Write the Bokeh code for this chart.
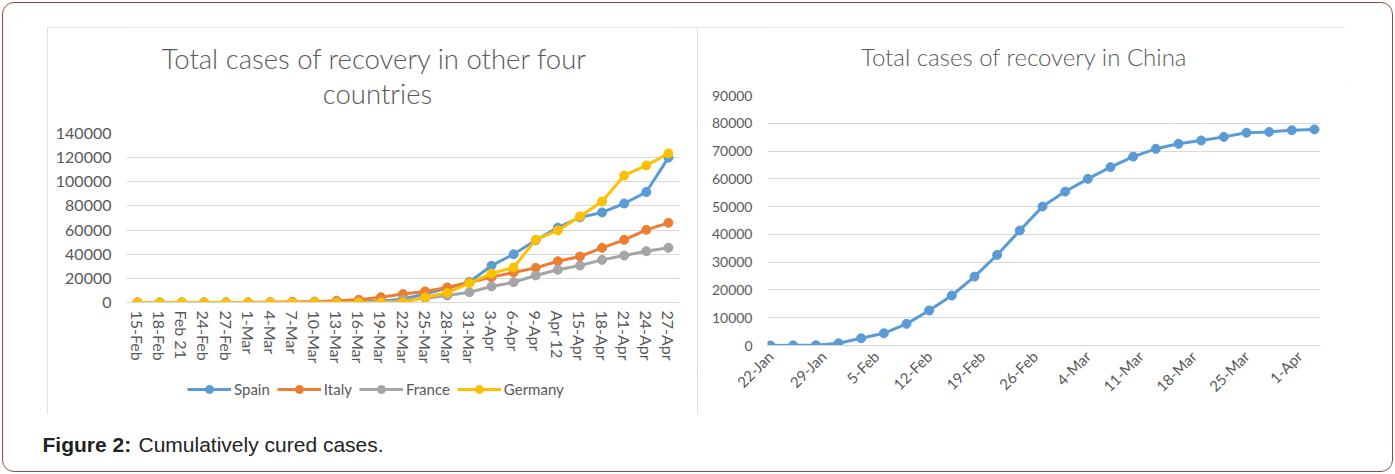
import math
from bokeh.plotting import figure
from bokeh.models import (FactorRange, Range1d, FixedTicker, Legend, LegendItem,
                          Label, Spacer, BasicTickFormatter)
from bokeh.layouts import column, row
from bokeh.embed import file_html
from bokeh.resources import INLINE

# ---------------- data ----------------
dates4 = ["15-Feb", "18-Feb", "Feb 21", "24-Feb", "27-Feb", "1-Mar", "4-Mar", "7-Mar",
          "10-Mar", "13-Mar", "16-Mar", "19-Mar", "22-Mar", "25-Mar", "28-Mar", "31-Mar",
          "3-Apr", "6-Apr", "9-Apr", "Apr 12", "15-Apr", "18-Apr", "21-Apr", "24-Apr", "27-Apr"]
spain = [0, 0, 0, 0, 0, 0, 0, 30, 30, 200, 500, 1100, 3000, 7000, 12000, 17000,
         30500, 40000, 51500, 62000, 70500, 74600, 82000, 91500, 120000]
italy = [0, 0, 0, 0, 50, 80, 280, 600, 700, 1400, 2300, 4400, 7000, 9200, 12500, 16500,
         21000, 24900, 28700, 34200, 38100, 45300, 51900, 60200, 66000]
france = [0, 0, 0, 0, 0, 0, 0, 0, 0, 0, 0, 0, 2000, 3500, 5800, 8500,
          13300, 16800, 22400, 27100, 30600, 35300, 38900, 42500, 45300]
germany = [0, 0, 0, 0, 0, 0, 0, 0, 0, 0, 0, 0, 0, 4400, 8000, 16000,
           24000, 29000, 52000, 59700, 71300, 83700, 105200, 113500, 123500]
countries = ["Spain", "Italy", "France", "Germany"]
y_ticks4 = [0, 20000, 40000, 60000, 80000, 100000, 120000, 140000]

china_day = [0, 3, 6, 9, 12, 15, 18, 21, 24, 27, 30, 33, 36, 39, 42, 45, 48, 51,
             54, 57, 60, 63, 66, 69, 72]
china = [0, 50, 100, 800, 2600, 4400, 7800, 12600, 18000, 24800, 32600, 41400, 50000,
         55400, 60000, 64200, 68000, 70800, 72600, 73800, 75100, 76600, 76900, 77500, 77800]
china_tick_days = [0, 7, 14, 21, 28, 35, 42, 49, 56, 63, 70]
china_tick_labels = ["22-Jan", "29-Jan", "5-Feb", "12-Feb", "19-Feb", "26-Feb",
                     "4-Mar", "11-Mar", "18-Mar", "25-Mar", "1-Apr"]
y_ticks_china = [0, 10000, 20000, 30000, 40000, 50000, 60000, 70000, 80000, 90000]

title_left_1 = "Total cases of recovery  in other four"
title_left_2 = "countries"
title_right = "Total cases of recovery  in China"
caption_bold = "Figure 2:"
caption_rest = "Cumulatively cured cases."

# ---------------- styles ----------------
TXT = "#595959"
GRID = "#d9d9d9"
FONT = "Lato"
TFONT = "Lato Light"
colors = ["#5b9bd5", "#ed7d31", "#a5a5a5", "#ffc000"]
BOX = {"outline": "1px solid #d9d9d9", "outline-offset": "-1px"}
NAN = float("nan")


def style_common(p):
    p.outline_line_color = None
    p.background_fill_color = "white"
    p.border_fill_color = "white"
    p.ygrid.grid_line_color = GRID
    p.ygrid.grid_line_width = 1
    p.xgrid.grid_line_color = None
    p.yaxis.axis_line_color = None
    p.yaxis.major_tick_line_color = None
    p.yaxis.minor_tick_line_color = None
    p.yaxis.major_tick_out = 0
    p.yaxis.major_tick_in = 0
    p.yaxis.major_label_text_color = TXT
    p.yaxis.major_label_text_font = FONT
    p.yaxis.formatter = BasicTickFormatter(use_scientific=False)
    p.xaxis.axis_line_color = GRID
    p.xaxis.axis_line_width = 1
    p.xaxis.major_tick_line_color = None
    p.xaxis.minor_tick_line_color = None
    p.xaxis.major_tick_out = 0
    p.xaxis.major_tick_in = 0
    p.xaxis.major_label_text_color = TXT
    p.xaxis.major_label_text_font = FONT


def plain_fig(w, h, x0=0, x1=None, transparent=False):
    # frame of a strip stacked in a column is aligned with the chart's frame,
    # so the x range is given in canvas pixels of that aligned frame
    t = figure(width=w, height=h, x_range=Range1d(x0, w if x1 is None else x1),
               y_range=Range1d(0, h), output_backend="svg", toolbar_location=None,
               min_border=0, x_axis_location=None, y_axis_location=None)
    t.grid.visible = False
    t.outline_line_color = None
    if transparent:
        t.background_fill_color = None
        t.border_fill_color = None
    return t


# ---------------- left chart ----------------
L_LEFT, L_RIGHT = 79, 18
t1 = plain_fig(650, 96, L_LEFT, 650 - L_RIGHT)
t1.add_layout(Label(x=331, y=65, text=title_left_1, text_align="center",
                    text_baseline="middle", text_font=TFONT, text_font_size="27.5px",
                    text_color=TXT))
t1.add_layout(Label(x=330, y=30, text=title_left_2, text_align="center",
                    text_baseline="middle", text_font=TFONT, text_font_size="27.5px",
                    text_color=TXT))

p1 = figure(width=650, height=247, x_range=FactorRange(*dates4),
            y_range=Range1d(0, 140000), output_backend="svg", toolbar_location=None,
            min_border_left=L_LEFT, min_border_right=L_RIGHT, min_border_top=10,
            min_border_bottom=68)
style_common(p1)
p1.yaxis.ticker = FixedTicker(ticks=y_ticks4)
p1.yaxis.major_label_text_font_size = "16px"
p1.yaxis.major_label_standoff = 15
p1.xaxis.major_label_orientation = "vertical"
p1.xaxis.major_label_text_font_size = "16px"
p1.xaxis.major_label_standoff = 8

for vals, c in zip([spain, italy, france, germany], colors):
    p1.line(dates4, vals, line_color=c, line_width=3)
    p1.scatter(dates4, vals, marker="circle", size=9, fill_color=c, line_color=c)

# legend strip (legend keys only, no data drawn)
lg = plain_fig(650, 44, L_LEFT, 650 - L_RIGHT)
items = []
for name, c in zip(countries, colors):
    lr = lg.line([NAN], [NAN], line_color=c, line_width=3)
    sr = lg.scatter([NAN], [NAN], marker="circle", size=9, fill_color=c, line_color=c)
    items.append(LegendItem(label=name, renderers=[lr, sr]))
legend = Legend(items=items, orientation="horizontal", location=(61, 15),
                background_fill_alpha=0, border_line_color=None, padding=0, margin=0,
                spacing=7, glyph_width=44, glyph_height=20, label_standoff=3,
                label_text_font=FONT, label_text_font_size="15px", label_text_color=TXT)
lg.add_layout(legend, "center")

left_col = column(t1, p1, lg, styles=BOX)

# ---------------- right chart ----------------
R_LEFT, R_RIGHT = 70, 25
t2 = plain_fig(648, 58, R_LEFT, 648 - R_RIGHT)
t2.add_layout(Label(x=330, y=29, text=title_right, text_align="center",
                    text_baseline="middle", text_font=TFONT, text_font_size="24px",
                    text_color=TXT))

p2 = figure(width=648, height=329, x_range=Range1d(-0.4, 72.8),
            y_range=Range1d(0, 90000), output_backend="svg", toolbar_location=None,
            min_border_left=R_LEFT, min_border_right=R_RIGHT, min_border_top=10,
            min_border_bottom=69)
style_common(p2)
p2.yaxis.ticker = FixedTicker(ticks=y_ticks_china)
p2.yaxis.major_label_text_font_size = "14px"
p2.yaxis.major_label_standoff = 15
p2.xaxis.ticker = FixedTicker(ticks=china_tick_days)
p2.xaxis.major_label_overrides = {d: l for d, l in zip(china_tick_days, china_tick_labels)}
p2.xaxis.major_label_orientation = math.pi / 4
p2.xaxis.major_label_text_font_size = "15px"
p2.xaxis.major_label_standoff = 8
p2.line(china_day, china, line_color=colors[0], line_width=3)
p2.scatter(china_day, china, marker="circle", size=9, fill_color=colors[0], line_color=colors[0])

right_col = column(t2, p2, styles=BOX)

# ---------------- caption ----------------
cap = plain_fig(1383, 54, transparent=True)
cap.add_layout(Label(x=36, y=24, text=caption_bold, text_font="Liberation Sans",
                     text_font_style="bold", text_font_size="21px", text_color="#222222",
                     text_baseline="alphabetic"))
cap.add_layout(Label(x=132, y=24, text=caption_rest, text_font="Liberation Sans",
                     text_font_size="21px", text_color="#222222", text_baseline="alphabetic"))

layout = column(Spacer(height=27, width=1395),
                row(Spacer(width=47, height=387), left_col, right_col, Spacer(width=50, height=387)),
                row(Spacer(width=6, height=54), cap, Spacer(width=6, height=54)),
                Spacer(height=6, width=1395),
                styles={"outline": "1.5px solid #9a4a3c", "outline-offset": "-3px",
                        "border-radius": "14px"})

open("out.html", "w").write(file_html(layout, INLINE))
